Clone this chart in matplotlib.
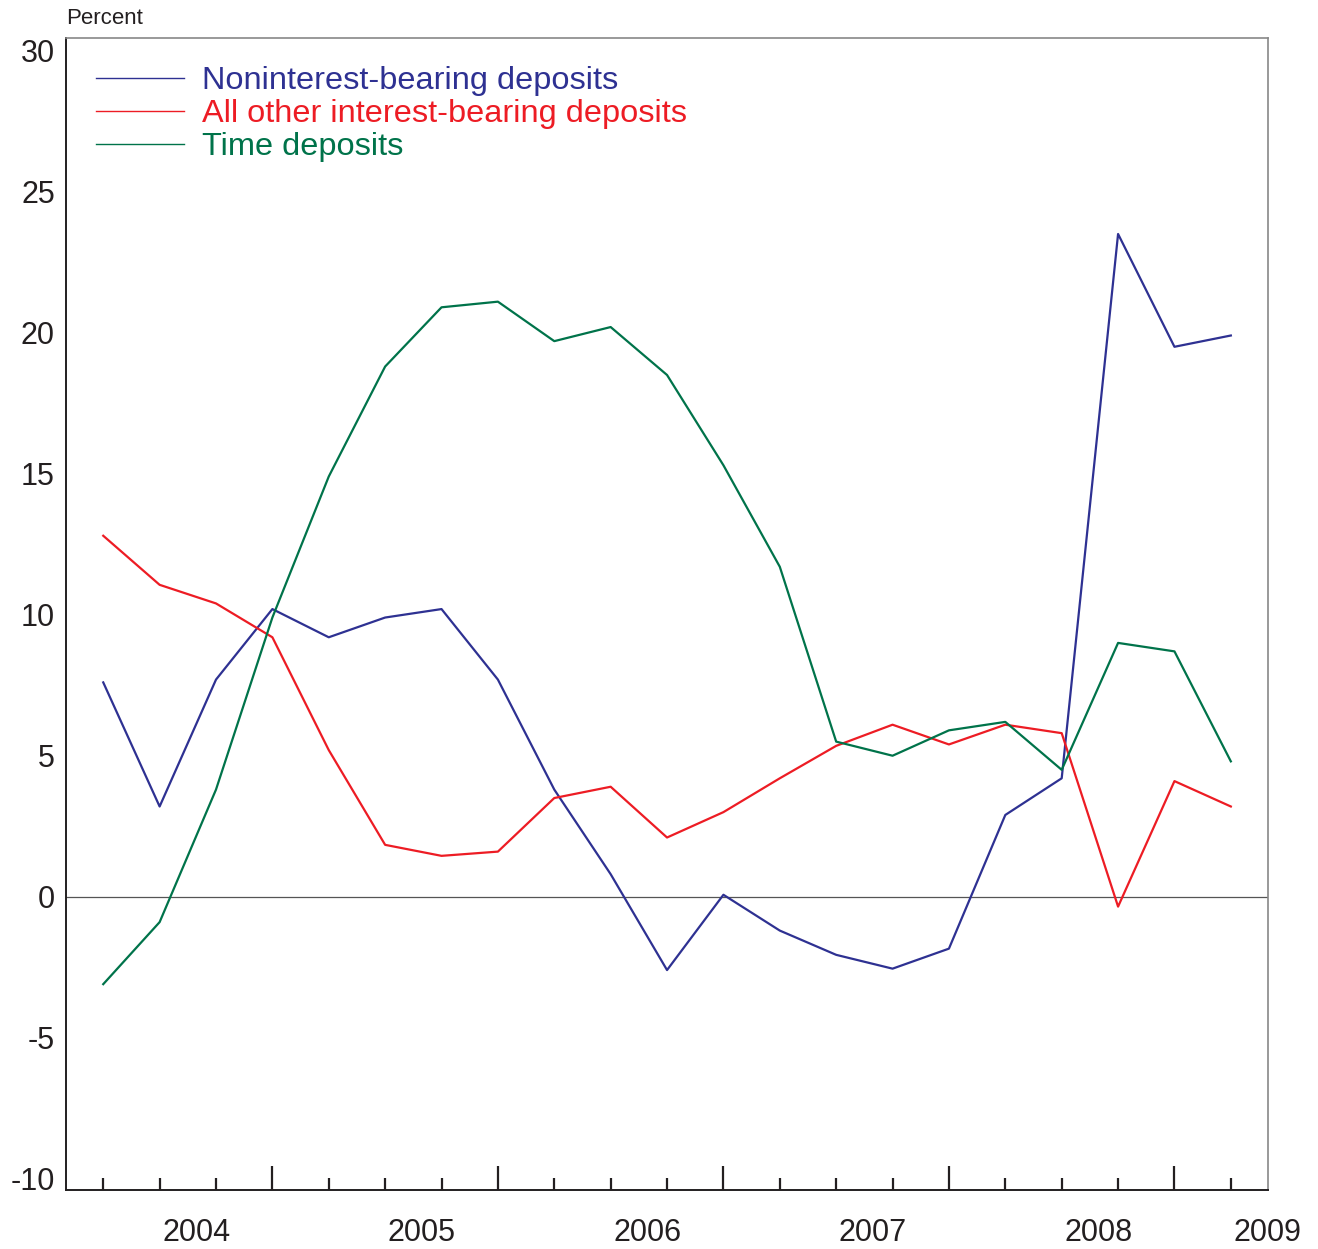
import numpy as np
import matplotlib.pyplot as plt

plt.rcParams['font.family'] = ['Liberation Sans', 'DejaVu Sans']

# quarterly observations, 21 points
noninterest = [7.6, 3.2, 7.7, 10.2, 9.2, 9.9, 10.2, 7.7, 3.8, 0.8, -2.6, 0.07,
               -1.2, -2.06, -2.55, -1.84, 2.9, 4.2, 23.5, 19.5, 19.9]
other_interest = [12.8, 11.06, 10.4, 9.2, 5.2, 1.84, 1.45, 1.6, 3.5, 3.9, 2.1, 3.0,
                  4.2, 5.35, 6.1, 5.4, 6.1, 5.8, -0.35, 4.1, 3.2]
time_dep = [-3.1, -0.9, 3.8, 9.9, 14.9, 18.8, 20.9, 21.1, 19.7, 20.2, 18.5, 15.3,
            11.7, 5.5, 5.0, 5.9, 6.2, 4.5, 9.0, 8.7, 4.8]
years = ['2004', '2005', '2006', '2007', '2008', '2009']
year_pos = [1.65, 5.65, 9.65, 13.65, 17.65, 20.65]
yticks = [-10, -5, 0, 5, 10, 15, 20, 25, 30]

blue = '#2E3192'
red = '#ED1C24'
green = '#00734A'
txt = '#231F20'

x = np.arange(len(noninterest))

fig = plt.figure(figsize=(13.18, 12.49), dpi=100)
ax = fig.add_axes([0.0501, 0.0472, 0.912, 0.9224])

ax.plot(x, noninterest, color=blue, lw=1.6, label='Noninterest-bearing deposits')
ax.plot(x, other_interest, color=red, lw=1.6, label='All other interest-bearing deposits')
ax.plot(x, time_dep, color=green, lw=1.6, label='Time deposits')
ax.axhline(0, color='#555555', lw=0.9, zorder=0)

ax.set_xlim(-0.66, 20.66)
ax.set_ylim(-10.4, 30.45)

# y labels, no tick marks
ax.set_yticks(yticks)
ax.set_yticklabels([str(v) for v in yticks], fontsize=22, color=txt)
ax.tick_params(axis='y', length=0, pad=8)

# quarter ticks: long ones mid-year, short ones elsewhere
long_q = [q for q in x if q % 4 == 3]
short_q = [q for q in x if q % 4 != 3]
ax.set_xticks(long_q)
ax.set_xticks(short_q, minor=True)
ax.set_xticklabels([])
ax.tick_params(axis='x', which='major', direction='in', length=17, width=1.6, color=txt)
ax.tick_params(axis='x', which='minor', direction='in', length=9, width=1.6, color=txt)

sec = ax.secondary_xaxis('bottom')
sec.set_xticks(year_pos)
sec.set_xticklabels(years, fontsize=22, color=txt)
sec.tick_params(length=0, pad=20)
sec.spines['bottom'].set_visible(False)

for s in ['left', 'bottom']:
    ax.spines[s].set_color(txt)
    ax.spines[s].set_linewidth(1.4)
for s in ['top', 'right']:
    ax.spines[s].set_color('#888888')
    ax.spines[s].set_linewidth(1.2)

leg = ax.legend(loc='upper left', frameon=False, fontsize=23.4, handlelength=2.7,
                handletextpad=0.55, labelspacing=0.09, borderaxespad=0, borderpad=0,
                bbox_to_anchor=(0.025, 0.9755), labelcolor='linecolor')
for h in leg.get_lines():
    h.set_linewidth(1.0)

fig.text(66 / 1318, 1 - 19 / 1249, 'Percent', fontsize=16, color=txt, va='center')

fig.savefig('out.png', dpi=100)
